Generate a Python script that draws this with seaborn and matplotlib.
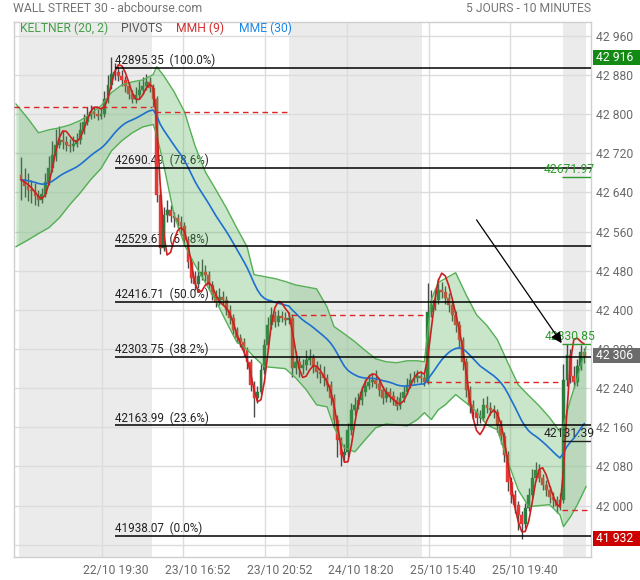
import numpy as np
import pandas as pd
import matplotlib
matplotlib.use("Agg")
import matplotlib.pyplot as plt
from matplotlib.patches import Rectangle
import seaborn as sns

# ── Data (10-minute candles) ──
FIRST_OPEN = 42676
CLOSE = [
    42666, 42654, 42646, 42642, 42633, 42625, 42637, 42662, 42690, 42717,
    42738, 42748, 42744, 42736, 42734, 42740, 42748, 42768, 42785, 42797,
    42805, 42801, 42797, 42801, 42830, 42860, 42883, 42887, 42879, 42870,
    42858, 42842, 42830, 42840, 42850, 42858, 42866, 42854, 42830,
    42635, 42527, 42594, 42605, 42592, 42588, 42580, 42572, 42543, 42498,
    42466, 42453, 42470, 42478, 42472, 42451, 42431, 42417, 42427, 42421,
    42400, 42384, 42359, 42343, 42335, 42319, 42294, 42247, 42220, 42233,
    42278, 42329, 42370, 42390, 42376, 42388, 42384, 42380, 42384,
    42282, 42294, 42282, 42288, 42298, 42302, 42286, 42274, 42268, 42261,
    42247, 42220, 42175, 42135, 42104, 42110, 42155, 42196, 42206, 42216,
    42233, 42245, 42253, 42257, 42249, 42237, 42220, 42233, 42225, 42216,
    42204, 42220, 42233, 42247, 42257, 42261, 42265, 42261, 42253,
    42396, 42411, 42421, 42441, 42437, 42425, 42409, 42390, 42370, 42339,
    42294, 42237, 42206, 42192, 42180, 42180, 42206, 42200, 42196, 42192,
    42165, 42143, 42104, 42049, 42022, 42002, 41981, 41963, 41996, 42022,
    42057, 42073, 42057, 42043, 42032, 42018, 42012, 42000, 42012,
    42257, 42308, 42265, 42253, 42286, 42314, 42306,
]
HIGH = [
    42713, 42690, 42680, 42665, 42660, 42645, 42650, 42680, 42715, 42745,
    42770, 42775, 42765, 42755, 42750, 42755, 42762, 42785, 42800, 42815,
    42818, 42815, 42810, 42815, 42848, 42880, 42916, 42905, 42898, 42890,
    42878, 42865, 42850, 42855, 42868, 42875, 42882, 42875, 42862,
    42838, 42650, 42610, 42625, 42615, 42600, 42595, 42592, 42580, 42552,
    42505, 42480, 42500, 42505, 42492, 42480, 42460, 42440, 42445, 42438,
    42428, 42410, 42392, 42365, 42350, 42342, 42325, 42300, 42255, 42245,
    42290, 42340, 42385, 42405, 42398, 42400, 42398, 42395, 42395,
    42392, 42315, 42305, 42300, 42318, 42320, 42310, 42295, 42290, 42285,
    42270, 42255, 42228, 42185, 42140, 42125, 42168, 42210, 42222, 42230,
    42245, 42258, 42268, 42272, 42278, 42258, 42245, 42242, 42240, 42235,
    42225, 42232, 42245, 42260, 42272, 42275, 42278, 42275, 42268,
    42455, 42440, 42445, 42465, 42458, 42448, 42435, 42418, 42398, 42378,
    42345, 42302, 42245, 42215, 42200, 42195, 42220, 42225, 42212, 42205,
    42198, 42175, 42150, 42112, 42058, 42032, 42010, 41990, 42005, 42035,
    42075, 42090, 42085, 42065, 42052, 42040, 42028, 42020, 42025,
    42290, 42331, 42320, 42285, 42300, 42328, 42322,
]
LOW = [
    42625, 42630, 42622, 42618, 42615, 42612, 42618, 42630, 42655, 42682,
    42705, 42730, 42728, 42725, 42722, 42725, 42732, 42740, 42760, 42778,
    42790, 42792, 42788, 42790, 42795, 42822, 42852, 42870, 42868, 42858,
    42845, 42830, 42822, 42822, 42832, 42842, 42850, 42845, 42815,
    42620, 42515, 42520, 42580, 42580, 42570, 42565, 42555, 42530, 42485,
    42455, 42440, 42445, 42462, 42460, 42440, 42420, 42405, 42410, 42410,
    42390, 42372, 42350, 42332, 42325, 42305, 42280, 42235, 42182, 42210,
    42228, 42270, 42320, 42360, 42365, 42368, 42375, 42370, 42372,
    42262, 42270, 42262, 42270, 42278, 42288, 42272, 42260, 42250, 42245,
    42235, 42205, 42160, 42100, 42080, 42092, 42100, 42145, 42185, 42198,
    42205, 42225, 42238, 42242, 42240, 42225, 42208, 42212, 42212, 42205,
    42195, 42198, 42212, 42228, 42240, 42250, 42252, 42250, 42245,
    42248, 42385, 42400, 42412, 42425, 42412, 42395, 42378, 42355, 42325,
    42278, 42222, 42190, 42178, 42165, 42168, 42172, 42190, 42185, 42180,
    42150, 42125, 42090, 42030, 42005, 41985, 41950, 41932, 41955, 41988,
    42015, 42050, 42048, 42032, 42020, 42005, 41998, 41985, 41992,
    42005, 42245, 42250, 42240, 42245, 42278, 42292,
]

# Keltner (20, 2) envelope, read at candle indices
KC_IDX = [-1.5, 2, 5, 8, 11, 14, 17, 20, 23, 26, 29, 32, 35, 38, 39, 41, 44, 47,
          50, 53, 56, 59, 62, 65, 67, 70, 73, 76, 79, 82, 85, 88, 90, 93, 96, 99,
          102, 105, 108, 111, 114, 116, 118, 120, 122, 125, 128, 131, 134, 137,
          140, 143, 146, 149, 152, 155, 156, 158, 160, 162.5]
KC_UPPER = [42821, 42791, 42762, 42768, 42772, 42778, 42787, 42801, 42817, 42844,
            42860, 42866, 42870, 42881, 42897, 42879, 42846, 42805, 42736, 42682,
            42646, 42609, 42568, 42529, 42472, 42468, 42464, 42458, 42451, 42447,
            42443, 42406, 42366, 42351, 42335, 42317, 42300, 42294, 42292, 42296,
            42296, 42294, 42421, 42456, 42464, 42476, 42431, 42390, 42368, 42339,
            42292, 42247, 42225, 42204, 42180, 42151, 42165, 42216, 42261, 42325]
KC_LOWER = [42529, 42543, 42556, 42568, 42588, 42615, 42639, 42666, 42689, 42725,
            42746, 42762, 42774, 42779, 42758, 42697, 42595, 42533, 42492, 42456,
            42419, 42376, 42335, 42319, 42304, 42284, 42282, 42280, 42261, 42237,
            42206, 42202, 42161, 42118, 42110, 42135, 42159, 42167, 42165, 42163,
            42176, 42190, 42176, 42196, 42206, 42227, 42210, 42192, 42165, 42155,
            42090, 42032, 41998, 42000, 42002, 41981, 41957, 41977, 42002, 42039]

DAY_START = [0, 39, 78, 117, 156]
PIVOTS = [42815, 42804, 42390, 42253, 41992]

FIB_LEVELS = [42895.35, 42690.49, 42529.67, 42416.71, 42303.75, 42163.99, 41938.07]
FIB_PCT = ["100.0%", "78.6%", "61.8%", "50.0%", "38.2%", "23.6%", "0.0%"]
FIB_START = 27

TAG_VALUES = [42671.97, 42330.85, 42131.39]
TAG_COLORS = ["#2e9a2e", "#2e9a2e", "#222222"]

ARROW_FROM = (131, 42584)
ARROW_TO = (155.5, 42332)

X_LABELS = ["22/10 19:30", "23/10 16:52", "23/10 20:52",
            "24/10 18:20", "25/10 15:40", "25/10 19:40"]
Y_TICKS = list(range(41920, 42961, 80))

# ── Theme ────────────────────────────────────────────────────
GREEN_UP = "#2b7a40"
RED_DOWN = "#e53935"
WICK = "#4a4a4a"
BAND = "#4caf50"
GRID = "#dcdcdc"
SHADE = "#ebebeb"
LABEL = "#6a6a6a"

sns.set_theme(style="white")
plt.rcParams["font.family"] = ["Roboto", "DejaVu Sans"]

# layout of the plot area (pixels of the 640x580 canvas)
XMIN, XMAX = -1.94, 163.92
YMIN, YMAX = 41895, 42989
GRID_X = [23.2, 46.7, 70.2, 93.7, 117.2, 140.7]
LABEL_SHIFT = 4.1


def wma(s, n):
    w = np.arange(1, n + 1, dtype=float)
    return s.rolling(n, min_periods=1).apply(
        lambda x: np.dot(x, w[-len(x):]) / w[-len(x):].sum(), raw=True)


close = pd.Series(CLOSE, dtype=float)
open_ = pd.Series([FIRST_OPEN] + CLOSE[:-1], dtype=float)
high = np.array(HIGH, float)
low = np.array(LOW, float)
idx = np.arange(len(close))

mme = close.ewm(span=30, adjust=False).mean()
mmh = wma(2 * wma(close, 4) - wma(close, 9), 3)

fig = plt.figure(figsize=(6.4, 5.8), dpi=100)
ax = fig.add_axes([14.3 / 640, 23 / 580, 576.7 / 640, 535.3 / 580])
ax.set_facecolor("white")

# alternating session shading
shade_spans = [(-0.5, 37.8), (77.2, 115.3), (155.8, 162.5)]
for a, b in shade_spans:
    ax.axvspan(a, b, color=SHADE, lw=0, zorder=0)

# candles
up = (close >= open_).values
colors = np.where(up, GREEN_UP, RED_DOWN)
body_lo = np.minimum(open_, close)
body_h = np.maximum(np.abs(close - open_), 2.5)
ax.vlines(idx, low, high, color=WICK, lw=1.0, zorder=3)
ax.bar(idx, body_h, bottom=body_lo, width=0.82, color=colors,
       edgecolor=colors, lw=0.3, zorder=4)

# Keltner band drawn over the candles
ax.fill_between(KC_IDX, KC_LOWER, KC_UPPER, color=BAND, alpha=0.3, lw=0, zorder=5)
sns.lineplot(x=KC_IDX, y=KC_UPPER, ax=ax, color="#55b055", lw=1, zorder=6)
sns.lineplot(x=KC_IDX, y=KC_LOWER, ax=ax, color="#55b055", lw=1, zorder=6)

# pivots
day_end = DAY_START[1:] + [XMAX + 1]
for s, e, p in zip(DAY_START, day_end, PIVOTS):
    left = XMIN if s == 0 else s - 0.5
    ax.hlines(p, left, e - 1.2, colors="#e02424", linestyles=(0, (4, 3)),
              lw=1, zorder=6)

# moving averages
sns.lineplot(x=idx, y=mme.values, ax=ax, color="#1e6fd0", lw=1.2, zorder=7)
sns.lineplot(x=idx, y=mmh.values, ax=ax, color="#cc1f1f", lw=1.2, zorder=7)

# Fibonacci retracement
ax.hlines(FIB_LEVELS, FIB_START, XMAX, colors="black", lw=1.1, zorder=8)
for lv, pct in zip(FIB_LEVELS, FIB_PCT):
    ax.text(FIB_START, lv + 1.5, f"{lv:.2f}  ({pct})", fontsize=8.4,
            color="#222222", ha="left", va="bottom", zorder=2)

# tagged levels at the right edge
for v, c in zip(TAG_VALUES, TAG_COLORS):
    ax.hlines(v, 155.5, XMAX, colors=c, lw=1, zorder=8)
    ax.text(165.1, v + 2, f"{v:.2f}", color=c, fontsize=8.7,
            ha="right", va="bottom", zorder=9)

ax.annotate("", xy=ARROW_TO, xytext=ARROW_FROM,
            arrowprops=dict(arrowstyle="-|>", color="black", lw=0.9,
                            mutation_scale=16, shrinkA=0, shrinkB=0),
            zorder=9)

# axes
ax.set_xlim(XMIN, XMAX)
ax.set_ylim(YMIN, YMAX)
ax.set_xticks(GRID_X)
ax.set_xticklabels([])
ax.set_xticks([g + LABEL_SHIFT for g in GRID_X], X_LABELS, minor=True)
ax.tick_params(axis="x", which="both", length=0, pad=5, labelsize=8.7,
               labelcolor=LABEL)
ax.yaxis.tick_right()
ax.set_yticks(Y_TICKS)
ax.set_yticklabels(["" if v == Y_TICKS[0] else f"{v:,}".replace(",", " ")
                    for v in Y_TICKS])
ax.tick_params(axis="y", length=0, pad=3.6, labelsize=8.7, labelcolor=LABEL)
ax.grid(True, which="major", color=GRID, lw=1)
ax.set_axisbelow(True)
for sp in ax.spines.values():
    sp.set_color("#cfcfcf")
    sp.set_linewidth(1)
ax.set_xlabel("")
ax.set_ylabel("")

# value boxes on the price scale
boxes = [(max(HIGH), "#138a13"), (CLOSE[-1], "#6b6b6b"), (min(LOW), "#cc0000")]
ytr = ax.get_yaxis_transform()
box_h = 15 * (YMAX - YMIN) / 535.3
for v, c in boxes:
    ax.add_patch(Rectangle((1.0035, v - box_h / 2), 0.0815, box_h, transform=ytr,
                           facecolor=c, edgecolor="none", clip_on=False, zorder=10))
    ax.text(1.0087, v, f"{v:,.0f}".replace(",", " "), transform=ytr, color="white",
            fontsize=8.7, ha="left", va="center", zorder=11, clip_on=False)

# legend row
legend = [("KELTNER (20, 2)", "#43a047", 0.0099), ("PIVOTS", "#555555", 0.185),
          ("MMH (9)", "#d32f2f", 0.2804), ("MME (30)", "#1e88e5", 0.3896)]
for txt, c, xa in legend:
    ax.text(xa, 0.988, txt, transform=ax.transAxes, color=c, fontsize=8.7,
            ha="left", va="center", zorder=12)

fig.text(13 / 640, 1 - 8 / 580, "WALL STREET 30 - abcbourse.com", fontsize=8.8,
         color="#757575", ha="left", va="center")
fig.text(591 / 640, 1 - 8 / 580, "5 JOURS - 10 MINUTES", fontsize=8.7,
         color="#757575", ha="right", va="center")

fig.savefig("out.png", dpi=100)
